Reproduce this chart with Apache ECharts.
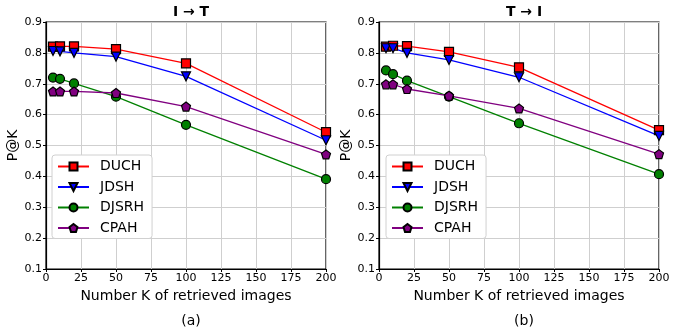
<!DOCTYPE html>
<html><head><meta charset="utf-8">
<script src="https://cdn.jsdelivr.net/npm/echarts@6/dist/echarts.min.js"></script>
<style>html,body{margin:0;padding:0;background:#fff}#c{width:678px;height:330px}</style>
</head><body><div id="c"></div>
<script>
const kValues = [5, 10, 20, 50, 100, 200];
const xTicks = [0, 25, 50, 75, 100, 125, 150, 175, 200];
const yTicks = [0.1, 0.2, 0.3, 0.4, 0.5, 0.6, 0.7, 0.8, 0.9];
const methods = ['DUCH', 'JDSH', 'DJSRH', 'CPAH'];
// I -> T
const i2t_DUCH  = [0.820, 0.821, 0.821, 0.812, 0.766, 0.543];
const i2t_JDSH  = [0.806, 0.805, 0.800, 0.788, 0.724, 0.517];
const i2t_DJSRH = [0.720, 0.716, 0.701, 0.658, 0.567, 0.391];
const i2t_CPAH  = [0.675, 0.675, 0.675, 0.670, 0.626, 0.471];
// T -> I
const t2i_DUCH  = [0.820, 0.823, 0.822, 0.803, 0.753, 0.550];
const t2i_JDSH  = [0.815, 0.815, 0.800, 0.777, 0.721, 0.531];
const t2i_DJSRH = [0.743, 0.731, 0.710, 0.658, 0.572, 0.407];
const t2i_CPAH  = [0.698, 0.698, 0.683, 0.661, 0.620, 0.472];

const colors = {DUCH:'#ff0000', JDSH:'#0000ff', DJSRH:'#008000', CPAH:'#800080'};
const symbols = {
  DUCH:'rect',
  JDSH:'path://M-1,-1 L1,-1 L0,1 Z',
  DJSRH:'circle',
  CPAH:'path://M0,-1 L0.951,-0.309 L0.588,0.809 L-0.588,0.809 L-0.951,-0.309 Z'
};
const sizes = {DUCH:9, JDSH:9, DJSRH:9, CPAH:9};
const panels = [
  {title:'I \u2192 T', sub:'(a)', data:{DUCH:i2t_DUCH, JDSH:i2t_JDSH, DJSRH:i2t_DJSRH, CPAH:i2t_CPAH}},
  {title:'T \u2192 I', sub:'(b)', data:{DUCH:t2i_DUCH, JDSH:t2i_JDSH, DJSRH:t2i_DJSRH, CPAH:t2i_CPAH}}
];
const grids = [
  {left:46, right:352, top:22, bottom:61},
  {left:379, right:19, top:22, bottom:61}
];
const font = 'DejaVu Sans';
const option = {
  animation:false,
  textStyle:{fontFamily:font},
  grid: grids.map(g => Object.assign({containLabel:false, show:true, borderColor:'#000', borderWidth:1.2}, g)),
  title: [],
  legend: [],
  xAxis: [], yAxis: [], series: []
};
panels.forEach((p, i) => {
  const cx = i === 0 ? 186 : 519;
  option.title.push({text:p.title, left:cx, top:0, textAlign:'center',
    textStyle:{fontFamily:font, fontSize:14, fontWeight:'bold', color:'#000'}});
  option.title.push({text:p.sub, left:cx, top:309, textAlign:'center',
    textStyle:{fontFamily:font, fontSize:14, fontWeight:'normal', color:'#000'}});
  option.legend.push({
    data: methods, left: i === 0 ? 52 : 386, top: 155, orient:'vertical',
    itemWidth:31, itemHeight:10, itemGap:3.5,
    padding:[3,8,2,5],
    backgroundColor:'#fff', borderColor:'#d0d0d0', borderWidth:1, borderRadius:3,
    textStyle:{fontFamily:font, fontSize:14, color:'#000', padding:[0,0,0,6], lineHeight:17}
  });
  option.xAxis.push({
    type:'value', gridIndex:i, min:0, max:200, interval:25,
    name:'Number K of retrieved images', nameLocation:'middle', nameGap:13,
    nameTextStyle:{fontFamily:font, fontSize:14, color:'#000'},
    axisLine:{show:true, onZero:false, lineStyle:{color:'#000', width:1.2}},
    axisTick:{show:true, length:3, lineStyle:{color:'#000'}},
    axisLabel:{fontFamily:font, fontSize:11, color:'#000', margin:4},
    splitLine:{show:true, lineStyle:{color:'#cfcfcf', width:1}}
  });
  option.yAxis.push({
    type:'value', gridIndex:i, min:0.1, max:0.9, interval:0.1,
    name:'P@K', nameLocation:'middle', nameGap:20,
    nameTextStyle:{fontFamily:font, fontSize:14, color:'#000'},
    axisLine:{show:true, onZero:false, lineStyle:{color:'#000', width:1.2}},
    axisTick:{show:true, length:3, lineStyle:{color:'#000'}},
    axisLabel:{fontFamily:font, fontSize:11, color:'#000', margin:4,
      formatter: v => v.toFixed(1)},
    splitLine:{show:true, lineStyle:{color:'#cfcfcf', width:1}}
  });
  methods.forEach(m => {
    option.series.push({
      name:m, type:'line', xAxisIndex:i, yAxisIndex:i,
      data: kValues.map((k, j) => [k, p.data[m][j]]),
      symbol: symbols[m], symbolSize: sizes[m], showAllSymbol:true,
      clip:false,
      lineStyle:{color:colors[m], width:1.3},
      itemStyle:{color:colors[m], borderColor:'#000', borderWidth:1.2, opacity:1},
      emphasis:{disabled:true}
    });
  });
});
const chart = echarts.init(document.getElementById('c'), null, {renderer:'canvas'});
chart.setOption(option);
</script>
</body></html>
